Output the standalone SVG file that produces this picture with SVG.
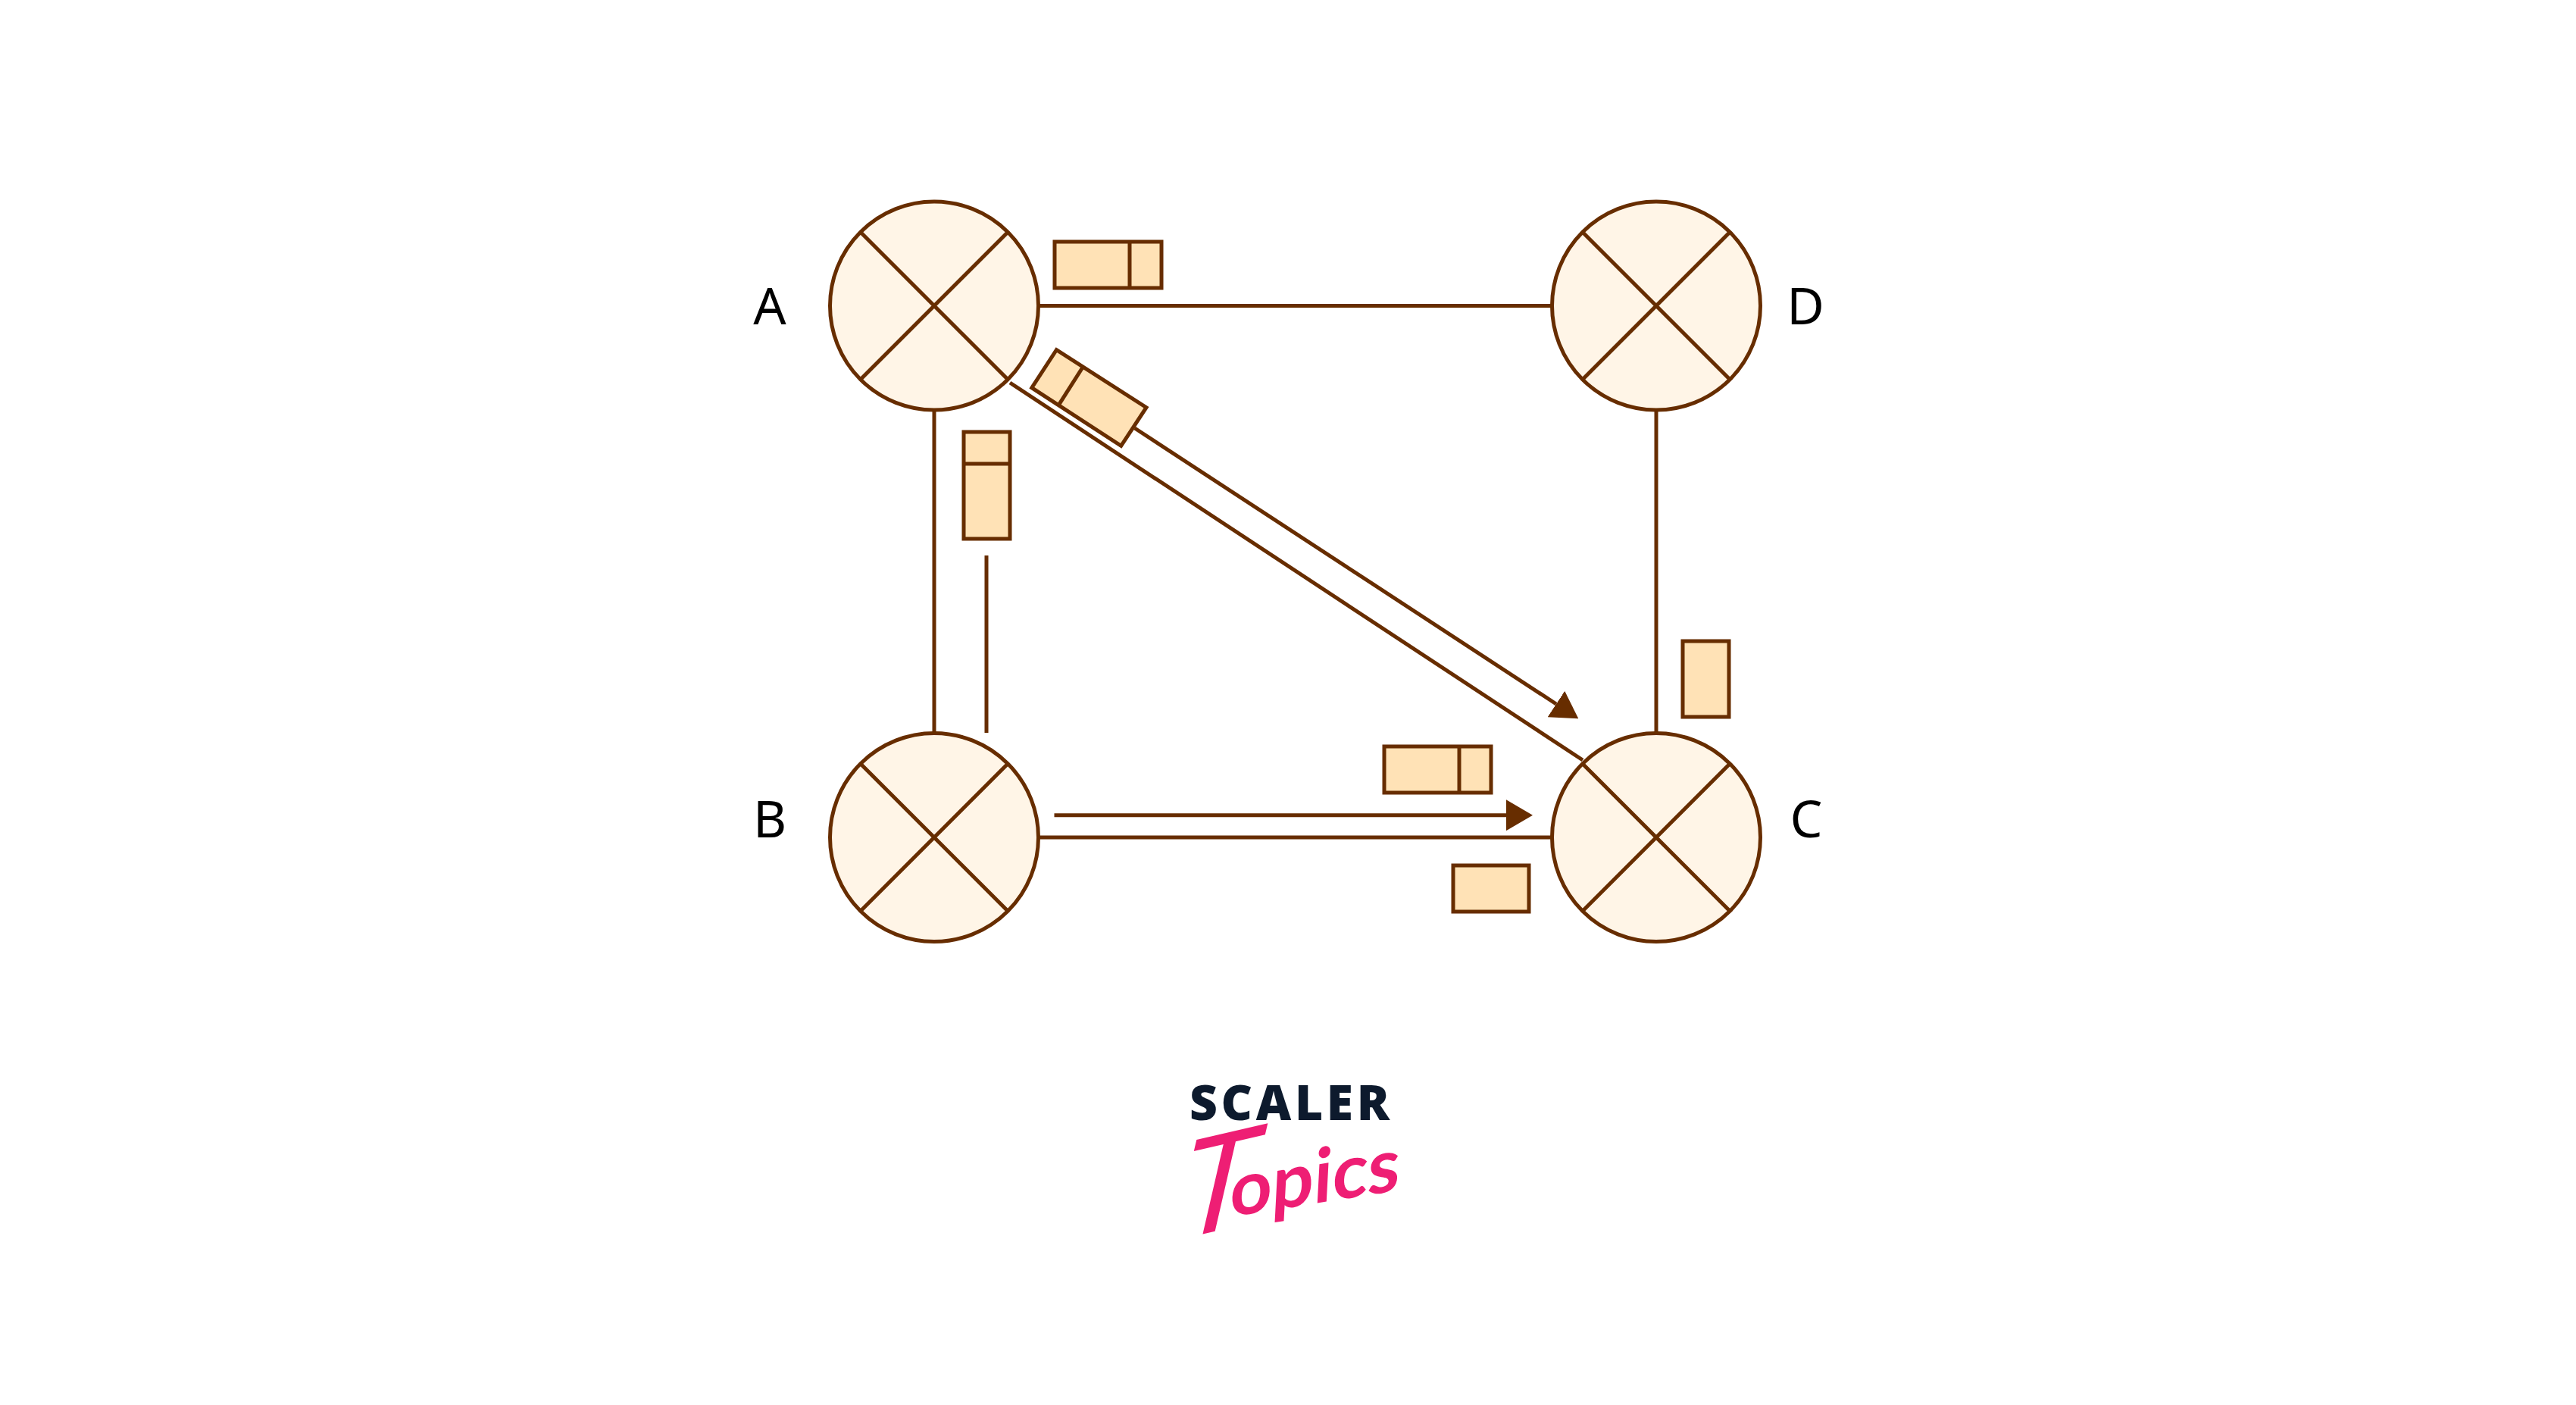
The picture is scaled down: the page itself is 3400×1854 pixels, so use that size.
<svg xmlns="http://www.w3.org/2000/svg" width="3400" height="1854" viewBox="0 0 3400 1854">
<style>
.l{stroke:#672d00;stroke-width:5;fill:none}
.c{stroke:#672d00;stroke-width:5;fill:#fff5e7}
.r{stroke:#672d00;stroke-width:5;fill:#ffe2b6}
.t{font-family:"Noto Sans",sans-serif;font-size:68px;fill:#000;text-anchor:middle}
</style>
<defs>
<marker id="ah" markerUnits="userSpaceOnUse" viewBox="0 0 35 41" refX="0" refY="20.5" markerWidth="35" markerHeight="41" orient="auto"><path d="M0 0L35 20.5L0 41Z" fill="#672d00"/></marker>
<g id="sw"><circle class="c" r="137.500"/><path class="l" d="M-97 -97L97 97M97 -97L-97 97"/></g>
</defs>
<rect width="3400" height="1854" fill="#fff"/>
<g id="connectors">
<path class="l" d="M1371 403.500H2048M1233 541V967M2186 541V967M1371 1105H2048M1302 733V967M1333 505L2089 1003"/>
<path class="l" d="M1391.500 1075.700H1988" marker-end="url(#ah)"/>
<path class="l" d="M1497.700 565L2054 929" marker-end="url(#ah)"/>
</g>
<g id="node-A"><use href="#sw" x="1233" y="403.500"/><text class="t" x="1016" y="428">A</text></g>
<g id="node-B"><use href="#sw" x="1233" y="1105"/><text class="t" x="1016" y="1105">B</text></g>
<g id="node-C"><use href="#sw" x="2186" y="1105"/><text class="t" x="2384" y="1105">C</text></g>
<g id="node-D"><use href="#sw" x="2186" y="403.500"/><text class="t" x="2383" y="428">D</text></g>
<g id="packet-AD"><rect class="r" x="1392" y="319" width="141" height="61"/><path class="l" d="M1491 319V380"/></g>
<g id="packet-AB"><rect class="r" x="1272" y="570" width="61" height="141"/><path class="l" d="M1272 612H1333"/></g>
<g id="packet-AC"><path class="r" d="M1394.400 461.700L1513 537.700L1479.700 588.300L1361.800 511.700Z"/><path class="l" d="M1428.800 485L1397.400 534.300"/></g>
<g id="packet-BC"><rect class="r" x="1827" y="985" width="141" height="61"/><path class="l" d="M1926 985V1046"/></g>
<g id="packet-CD"><rect class="r" x="2221" y="846" width="61" height="100"/></g>
<g id="packet-CB"><rect class="r" x="1918" y="1142" width="100" height="61"/></g>
<g id="logo">
<text x="1570" y="1478" font-family="'Noto Sans',sans-serif" font-weight="900" font-size="64" fill="#0d1a2d" textLength="264" lengthAdjust="spacing">SCALER</text>
<g font-family="'Lato',sans-serif" fill="#ee1e74">
<text transform="translate(1546,1638) rotate(-13) skewX(-26)" font-size="172">T</text>
<text transform="translate(1622,1606) rotate(-9) skewX(-12)" font-size="98" font-weight="700">opics</text>
</g>
</g>
</svg>
